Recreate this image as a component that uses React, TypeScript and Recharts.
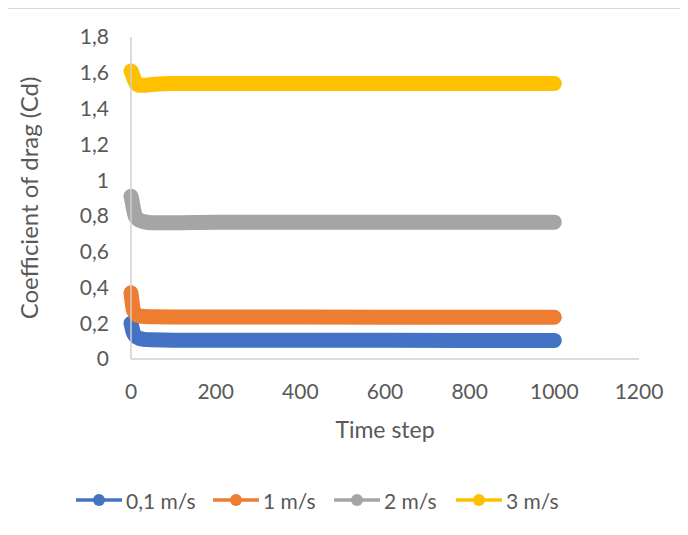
import { LineChart, Line, XAxis, YAxis, Legend } from "recharts";

const timeSteps = [0, 2, 5, 10, 15, 20, 30, 50, 100, 200, 400, 600, 800, 1000];
const cd01 = [0.2, 0.18, 0.15, 0.13, 0.12, 0.115, 0.11, 0.107, 0.105, 0.105, 0.105, 0.105, 0.104, 0.104];
const cd1 = [0.37, 0.33, 0.28, 0.255, 0.245, 0.24, 0.238, 0.236, 0.235, 0.235, 0.235, 0.234, 0.233, 0.233];
const cd2 = [0.91, 0.89, 0.85, 0.8, 0.785, 0.775, 0.768, 0.762, 0.762, 0.765, 0.765, 0.765, 0.765, 0.765];
const cd3 = [1.61, 1.6, 1.58, 1.55, 1.535, 1.53, 1.53, 1.535, 1.54, 1.54, 1.54, 1.54, 1.54, 1.54];

const xTicks = [0, 200, 400, 600, 800, 1000, 1200];
const yTicks = [0, 0.2, 0.4, 0.6, 0.8, 1, 1.2, 1.4, 1.6, 1.8];

const seriesList = [
  { key: "v01", name: "0,1 m/s", color: "#4472C4", values: cd01 },
  { key: "v1", name: "1 m/s", color: "#ED7D31", values: cd1 },
  { key: "v2", name: "2 m/s", color: "#A5A5A5", values: cd2 },
  { key: "v3", name: "3 m/s", color: "#FFC000", values: cd3 },
];

const data = timeSteps.map((t, i) => {
  const row: Record<string, number> = { t };
  seriesList.forEach((s) => (row[s.key] = s.values[i]));
  return row;
});

const FONT = "Lato, 'Open Sans', sans-serif";
const fmt = (v: number) => String(v).replace(".", ",");
const itemWidths = [137, 121, 122, 130];

function ExcelLegend() {
  return (
    <div style={{ height: 30, display: "flex", alignItems: "center", paddingLeft: 76, fontFamily: FONT }}>
      {seriesList.map((s, i) => (
        <div key={s.key} style={{ width: itemWidths[i], display: "flex", alignItems: "center" }}>
          <svg width={46} height={14}>
            <line x1={0} y1={7} x2={46} y2={7} stroke={s.color} strokeWidth={3.5} />
            <circle cx={23} cy={7} r={6} fill={s.color} />
          </svg>
          <span style={{ marginLeft: 4, fontSize: 21, color: "#595959" }}>{s.name}</span>
        </div>
      ))}
    </div>
  );
}

export default function App() {
  return (
    <div style={{ position: "relative", margin: -8, width: 688, height: 535, background: "#fff", fontFamily: FONT }}>
      <div
        style={{
          position: "absolute",
          left: 5,
          top: 8,
          right: -20,
          bottom: -20,
          borderLeft: "1px solid #d9d9d9",
          borderTop: "1px solid #d9d9d9",
        }}
      />
      <div style={{ position: "absolute", left: 0, top: 0 }}>
        <LineChart width={688} height={535} data={data} margin={{ top: 37, right: 49, left: 0, bottom: 20 }}>
          <XAxis
            dataKey="t"
            type="number"
            domain={[0, 1200]}
            ticks={xTicks}
            height={126}
            tickLine={false}
            tickSize={0}
            tickMargin={25}
            axisLine={{ stroke: "#d0d0d0", strokeWidth: 1.5 }}
            tick={{ fontSize: 21, fill: "#595959", fontFamily: FONT }}
            label={{ value: "Time step", position: "insideBottom", offset: 47, fontSize: 23, fill: "#595959", fontFamily: FONT }}
          />
          <YAxis
            type="number"
            domain={[0, 1.8]}
            ticks={yTicks}
            width={131}
            tickLine={false}
            tickSize={0}
            tickMargin={22}
            tickFormatter={fmt}
            axisLine={{ stroke: "#d0d0d0", strokeWidth: 1.5 }}
            tick={{ fontSize: 21, fill: "#595959", fontFamily: FONT }}
            label={{
              value: "Coefficient of drag (Cd)",
              angle: -90,
              position: "insideLeft",
              offset: 29,
              style: { textAnchor: "middle" },
              fontSize: 24,
              fill: "#595959",
              fontFamily: FONT,
            }}
          />
          <Legend verticalAlign="bottom" content={<ExcelLegend />} wrapperStyle={{ left: 0, width: 688 }} />
          {seriesList.map((s) => (
            <Line
              key={s.key}
              dataKey={s.key}
              name={s.name}
              type="monotone"
              stroke={s.color}
              strokeWidth={15}
              strokeLinecap="round"
              strokeLinejoin="round"
              dot={false}
              activeDot={false}
              isAnimationActive={false}
            />
          ))}
        </LineChart>
      </div>
    </div>
  );
}
